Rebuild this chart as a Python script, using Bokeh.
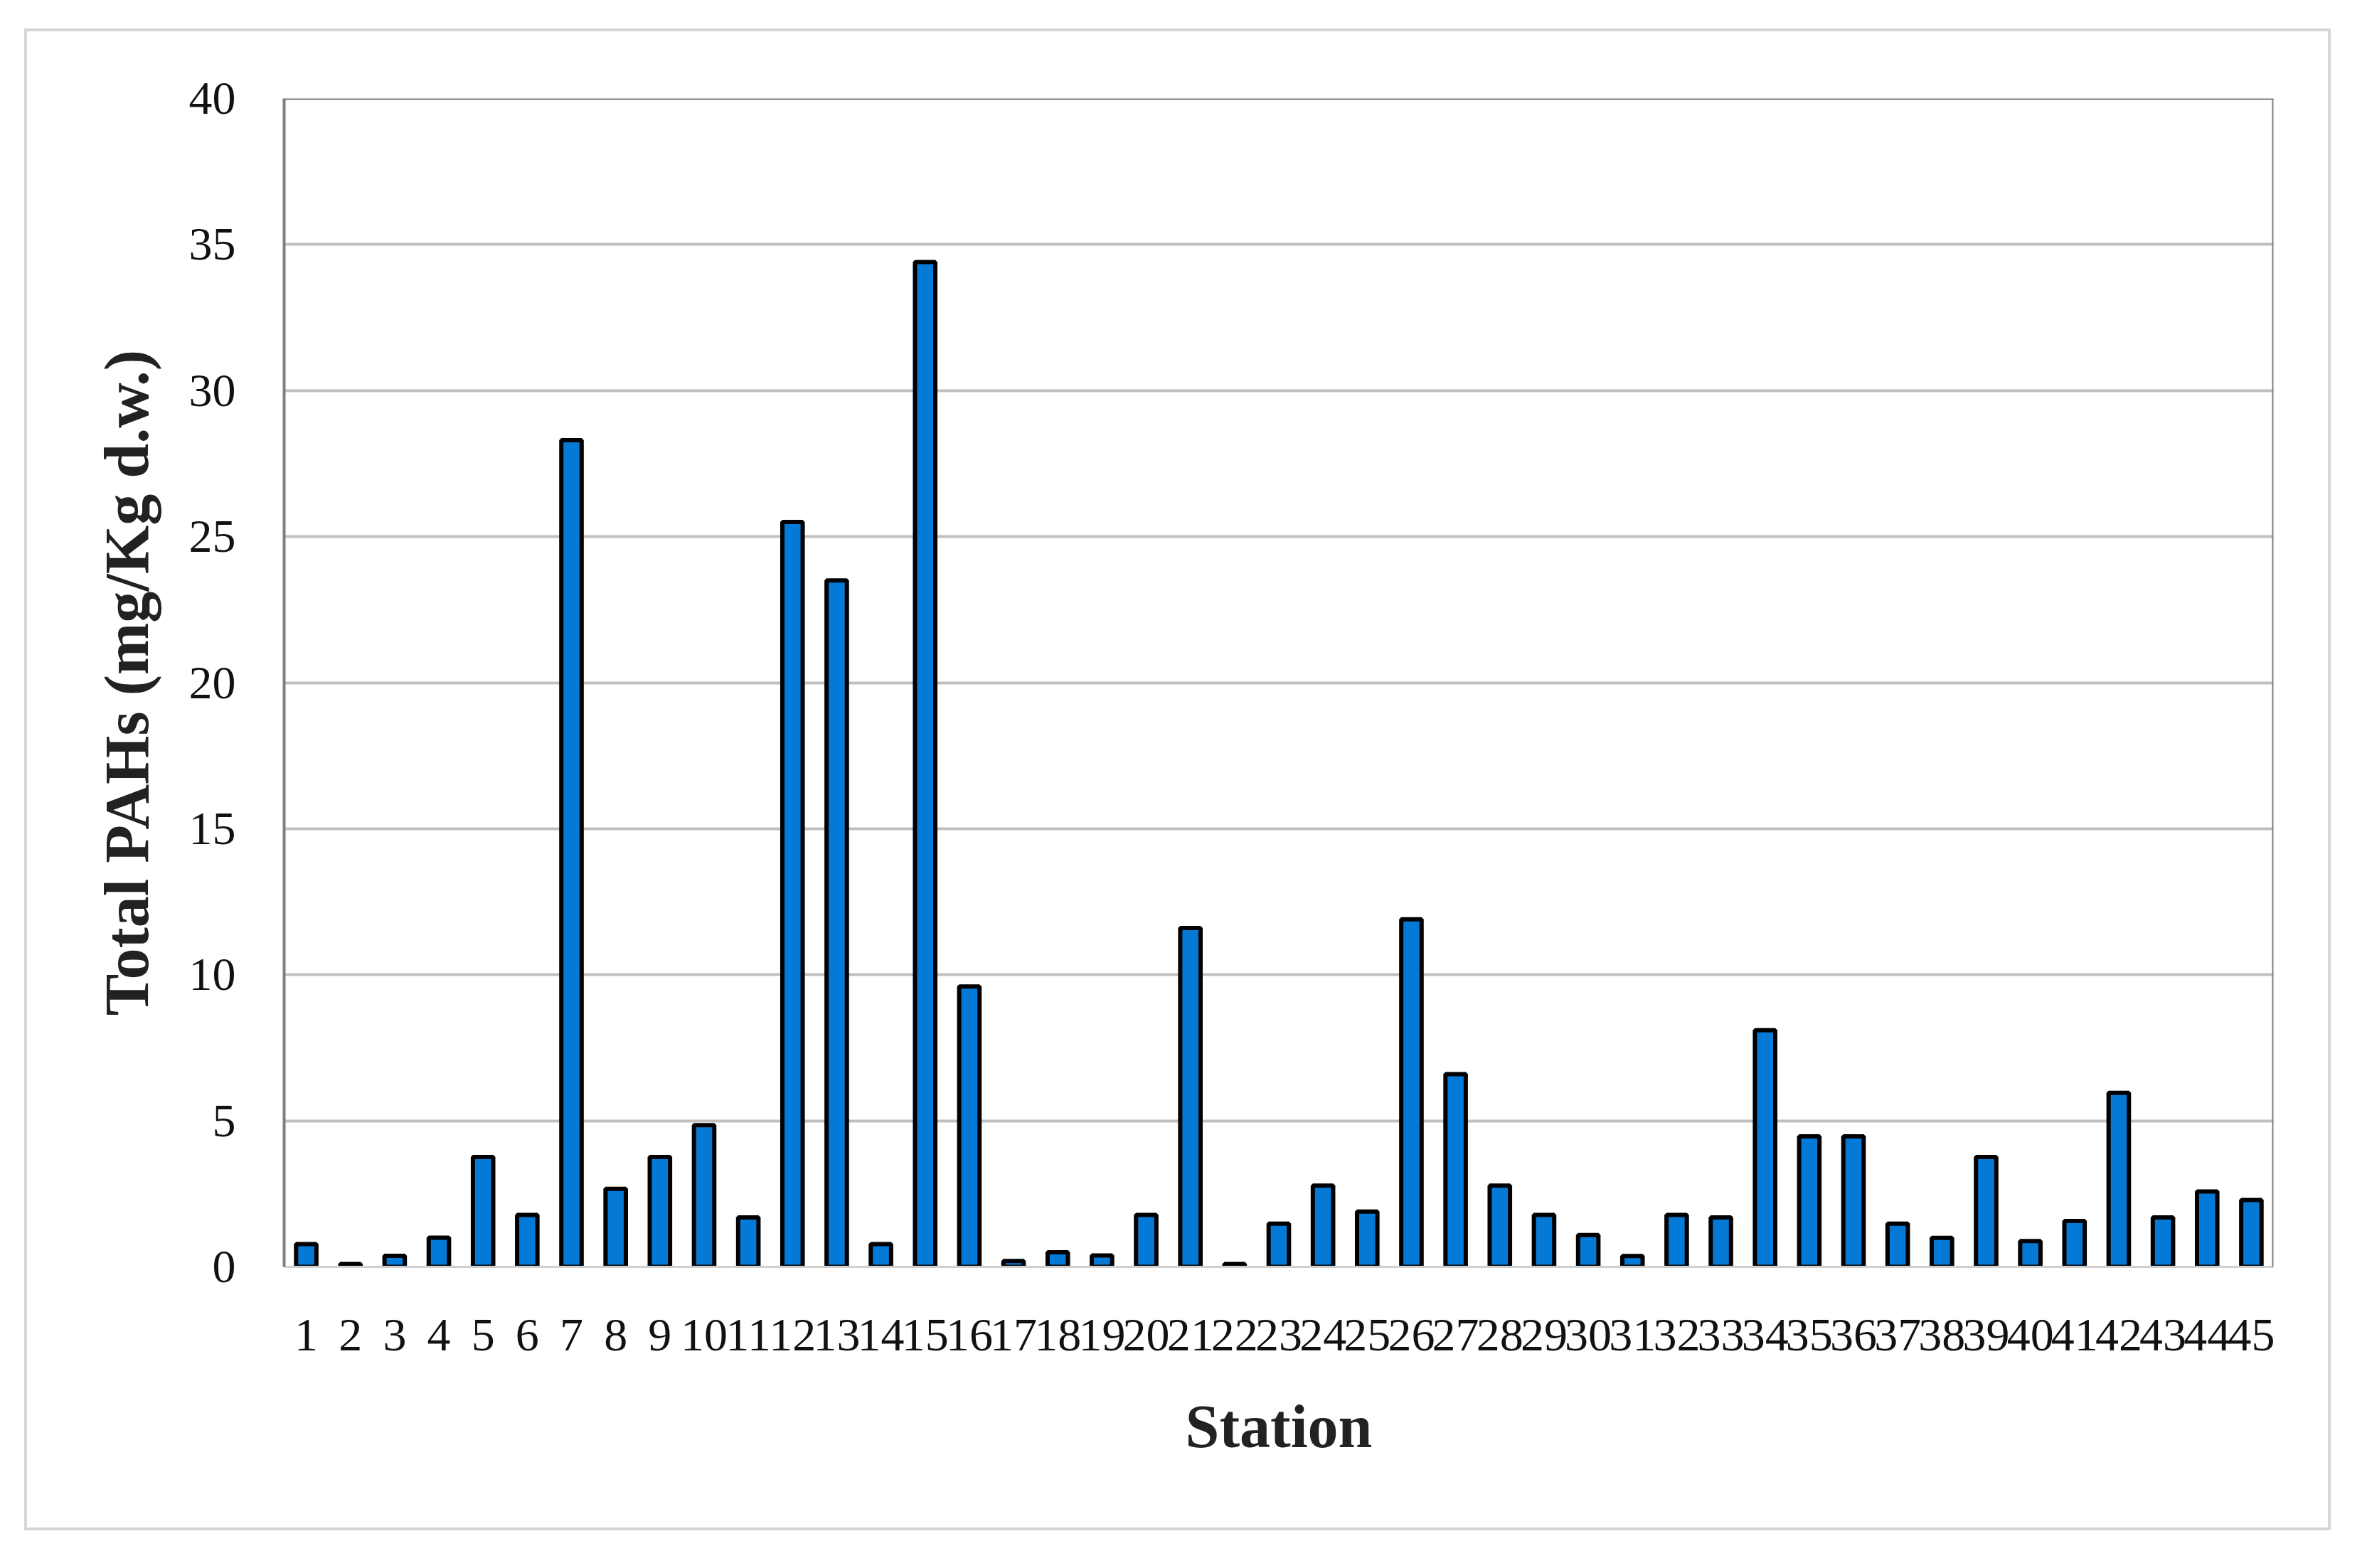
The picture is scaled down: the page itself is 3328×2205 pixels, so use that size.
from bokeh.plotting import figure
from bokeh.models import FactorRange, Range1d, Span, FixedTicker, ColumnDataSource
from bokeh.embed import file_html
from bokeh.resources import INLINE

stations = [str(i) for i in range(1, 46)]
total_pahs = [0.78, 0.1, 0.38, 1.0, 3.76, 1.78, 28.3, 2.67, 3.76, 4.85,
              1.69, 25.5, 23.5, 0.78, 34.4, 9.6, 0.2, 0.5, 0.39, 1.78,
              11.6, 0.1, 1.48, 2.78, 1.89, 11.9, 6.6, 2.78, 1.78, 1.09,
              0.37, 1.78, 1.69, 8.1, 4.47, 4.47, 1.48, 0.99, 3.76, 0.88,
              1.57, 5.96, 1.69, 2.58, 2.29]
y_ticks = [0, 5, 10, 15, 20, 25, 30, 35, 40]

W, H = 3243, 2112
p = figure(x_range=FactorRange(*stations, range_padding=0),
           y_range=Range1d(0, 40),
           width=W, height=H, output_backend="svg", toolbar_location=None,
           min_border_left=361, min_border_right=85,
           min_border_top=94, min_border_bottom=375)
p.margin = (40, 0, 0, 34)
p.styles = {"border": "4px solid #d6d6d6"}

src = ColumnDataSource(dict(station=stations, value=total_pahs))
p.vbar(x="station", top="value", width=0.46, source=src,
       fill_color="#0479d6", line_color="black", line_width=6)

p.outline_line_color = None
p.xgrid.grid_line_color = None
p.ygrid.grid_line_color = "#bfbfbf"
p.ygrid.grid_line_width = 4
p.ygrid.level = "underlay"

# dark frame lines (top, right) and left axis line
p.add_layout(Span(location=40, dimension="width", line_color="#7f7f7f", line_width=4))
p.add_layout(Span(location=45, dimension="height", line_color="#7f7f7f", line_width=4))

p.yaxis.ticker = FixedTicker(ticks=y_ticks)
p.yaxis.axis_line_color = "#7f7f7f"
p.yaxis.axis_line_width = 4
p.yaxis.major_tick_line_color = None
p.yaxis.minor_tick_line_color = None
p.yaxis.major_label_standoff = 62
p.yaxis.major_label_text_font = "Liberation Serif"
p.yaxis.major_label_text_font_size = "66px"
p.yaxis.major_label_text_color = "#111111"
p.yaxis.axis_label = "Total PAHs (mg/Kg d.w.)"
p.yaxis.axis_label_text_font = "Liberation Serif"
p.yaxis.axis_label_text_font_style = "bold"
p.yaxis.axis_label_text_font_size = "88px"
p.yaxis.axis_label_text_color = "#222222"
p.yaxis.axis_label_standoff = 36

p.xaxis.axis_line_color = "#d0d0d0"
p.xaxis.axis_line_width = 3
p.xaxis.major_tick_line_color = None
p.xaxis.minor_tick_line_color = None
p.xaxis.major_label_standoff = 68
p.xaxis.major_label_text_font = "Liberation Serif"
p.xaxis.major_label_text_font_size = "66px"
p.xaxis.major_label_text_color = "#111111"
p.xaxis.axis_label = "Station"
p.xaxis.axis_label_text_font = "Liberation Serif"
p.xaxis.axis_label_text_font_style = "bold"
p.xaxis.axis_label_text_font_size = "86px"
p.xaxis.axis_label_text_color = "#222222"
p.xaxis.axis_label_standoff = 56

open("out.html", "w").write(file_html(p, INLINE))
